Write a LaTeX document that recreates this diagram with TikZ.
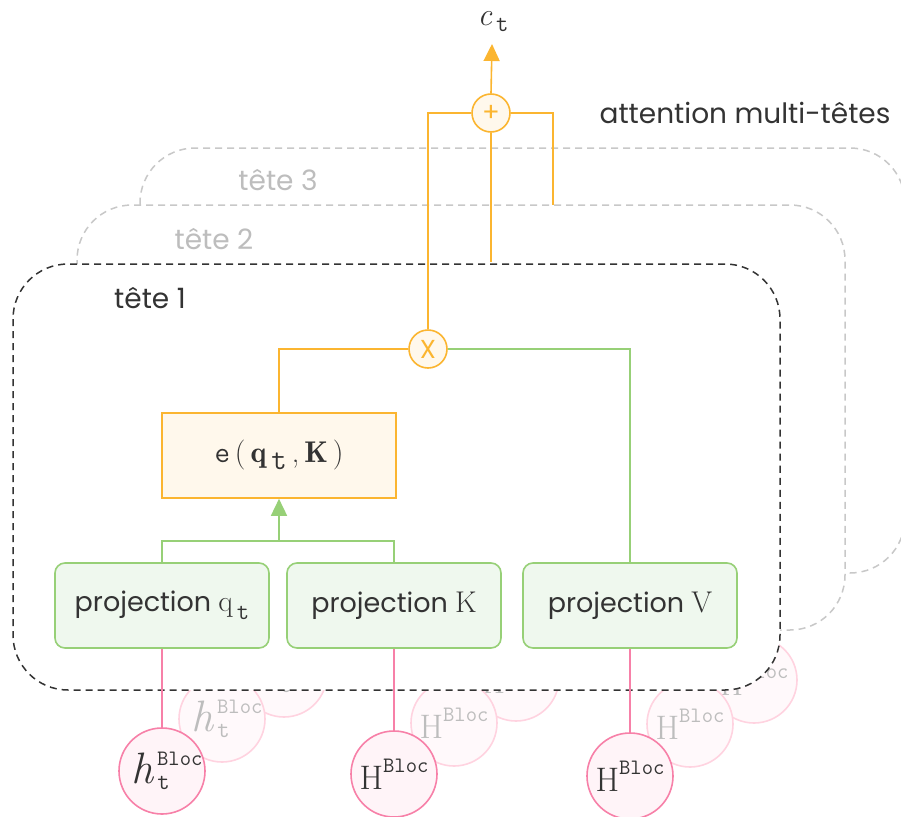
\documentclass[tikz,border=0pt]{standalone}
\usepackage{fontspec}
\setmainfont{Poppins}
\usetikzlibrary{arrows.meta}
\definecolor{orng}{HTML}{FBB530}
\definecolor{orngfill}{HTML}{FFF8EC}
\definecolor{grn}{HTML}{97D077}
\definecolor{grnfill}{HTML}{EFF8EE}
\definecolor{pnk}{HTML}{F780A8}
\definecolor{pnkfill}{HTML}{FFF4F8}
\definecolor{fpnk}{HTML}{FFD3E0}
\definecolor{fpnkfill}{HTML}{FFF9FB}
\definecolor{dark}{HTML}{333333}
\definecolor{lgray}{HTML}{C8C8C8}
\definecolor{tgray}{HTML}{BDBDBD}
\newcommand{\lmrm}{\fontfamily{lmr}\selectfont}
\newcommand{\lmty}{\fontfamily{lmtt}\selectfont}
\newcommand{\fsz}[1]{\fontsize{#1}{#1}\selectfont}
\tikzset{
  headbox/.style={line width=1.5pt, dash pattern=on 7pt off 5pt, rounded corners=55pt, fill=white},
  projbox/.style={draw=grn, fill=grnfill, line width=1.6pt, rounded corners=10pt, minimum width=214pt, minimum height=85pt, text=dark, font=\fsz{27}},
  ebox/.style={draw=orng, fill=orngfill, line width=1.6pt, minimum width=234pt, minimum height=85pt, text=dark, font=\fsz{30}},
  incirc/.style={circle, draw=pnk, fill=pnkfill, line width=1.6pt, minimum size=86pt, inner sep=0pt, text=dark, font=\fsz{34}},
  fcirc/.style={circle, draw=fpnk, fill=fpnkfill, line width=1.6pt, minimum size=86pt, inner sep=0pt, text=tgray, font=\fsz{34}},
  opcirc/.style={circle, draw=orng, fill=orngfill, line width=1.6pt, minimum size=38pt, inner sep=0pt, text=orng, font=\fsz{26}},
  oline/.style={draw=orng, line width=1.6pt},
  gline/.style={draw=grn, line width=1.6pt},
  pline/.style={draw=pnk, line width=1.6pt},
  tipA/.style={-{Triangle[length=17pt,width=16pt]}},
  lbl/.style={font=\fsz{28}}
}
\newcommand{\HB}{{\lmrm H}\raisebox{17pt}{\fsz{22}\lmty Bloc}}
\newcommand{\hB}{{\fsz{44}\lmrm\itshape h}\rlap{\raisebox{18pt}{\fsz{22}\lmty\,Bloc}}\raisebox{-6pt}{\fsz{24}\lmty\,t}\phantom{\fsz{22}\lmty oc}}
\begin{document}
\begin{tikzpicture}[x=1pt,y=-1pt]
\useasboundingbox (0,0) rectangle (901,816);
% background heads
\draw[headbox, draw=lgray] (140,148) rectangle (905,573);
\draw[headbox, draw=lgray] (77,205) rectangle (845,630);
\node[lbl, text=tgray] (t3) at (278,180) {tête 3};
\node[lbl, text=tgray] (t2) at (214,239) {tête 2};
% faded circles head 3
\node[fcirc] (h3) at (284,674) {\hB};
\node[fcirc] (k3) at (516,678) {\HB};
\node[fcirc] (v3) at (754,680) {\HB};
% faded circles head 2
\node[fcirc] (h2) at (222,719) {\hB};
\node[fcirc] (k2) at (454,723) {\HB};
\node[fcirc] (v2) at (690,724) {\HB};
% head 1
\draw[headbox, draw=dark] (13,264) rectangle (780,690);
\node[lbl, text=dark] (t1) at (150,298) {tête 1};
\node[lbl, text=dark] (att) at (745,113) {attention multi-têtes};
% projections
\node[projbox] (pq) at (162,605.5) {projection {\lmrm\fsz{30}q}\raisebox{-8pt}{\fsz{24}\lmty\,t}};
\node[projbox] (pk) at (394,605.5) {projection {\lmrm\fsz{30}K}};
\node[projbox] (pv) at (630,605.5) {projection {\lmrm\fsz{30}V}};
\node[ebox] (e) at (279,455.5) {{\lmty e}\,{\lmrm(}\,{\lmrm\bfseries q}\,\raisebox{-7pt}{\lmty t}\,{\lmrm,}\,{\lmrm\bfseries K}\,{\lmrm)}};
\node[opcirc] (mul) at (428,349) {X};
\node[opcirc] (plus) at (491,113) {+};
\node[text=dark, font=\fsz{32}, anchor=base, inner sep=0pt] (ct) at (493,26) {{\lmrm\itshape c}\raisebox{-6pt}{\fsz{24}\lmty\,t}};
% inputs
\node[incirc] (h1) at (162,771) {\hB};
\node[incirc] (k1) at (394,774) {\HB};
\node[incirc] (v1) at (630,776) {\HB};
% connectors
\draw[pline] (pq.south) -- (h1.north);
\draw[pline] (pk.south) -- (k1.north);
\draw[pline] (pv.south) -- (v1.north);
\coordinate (gmid) at (279,541);
\draw[gline] (pq.north) |- (gmid) -| (pk.north);
\draw[gline, tipA] (gmid) -- (e.south);
\draw[oline] (e.north) |- (mul.west);
\draw[gline] (mul.east) -| (pv.north);
\draw[oline] (mul.north) |- (plus.west);
\coordinate (r2) at (553,205);
\coordinate (r1) at (491,262);
\coordinate (ctend) at (492,44);
\draw[oline] (plus.east) -| (r2);
\draw[oline] (plus.south) -- (r1);
\draw[oline, tipA] (plus.north) -- (ctend);
\end{tikzpicture}
\end{document}
